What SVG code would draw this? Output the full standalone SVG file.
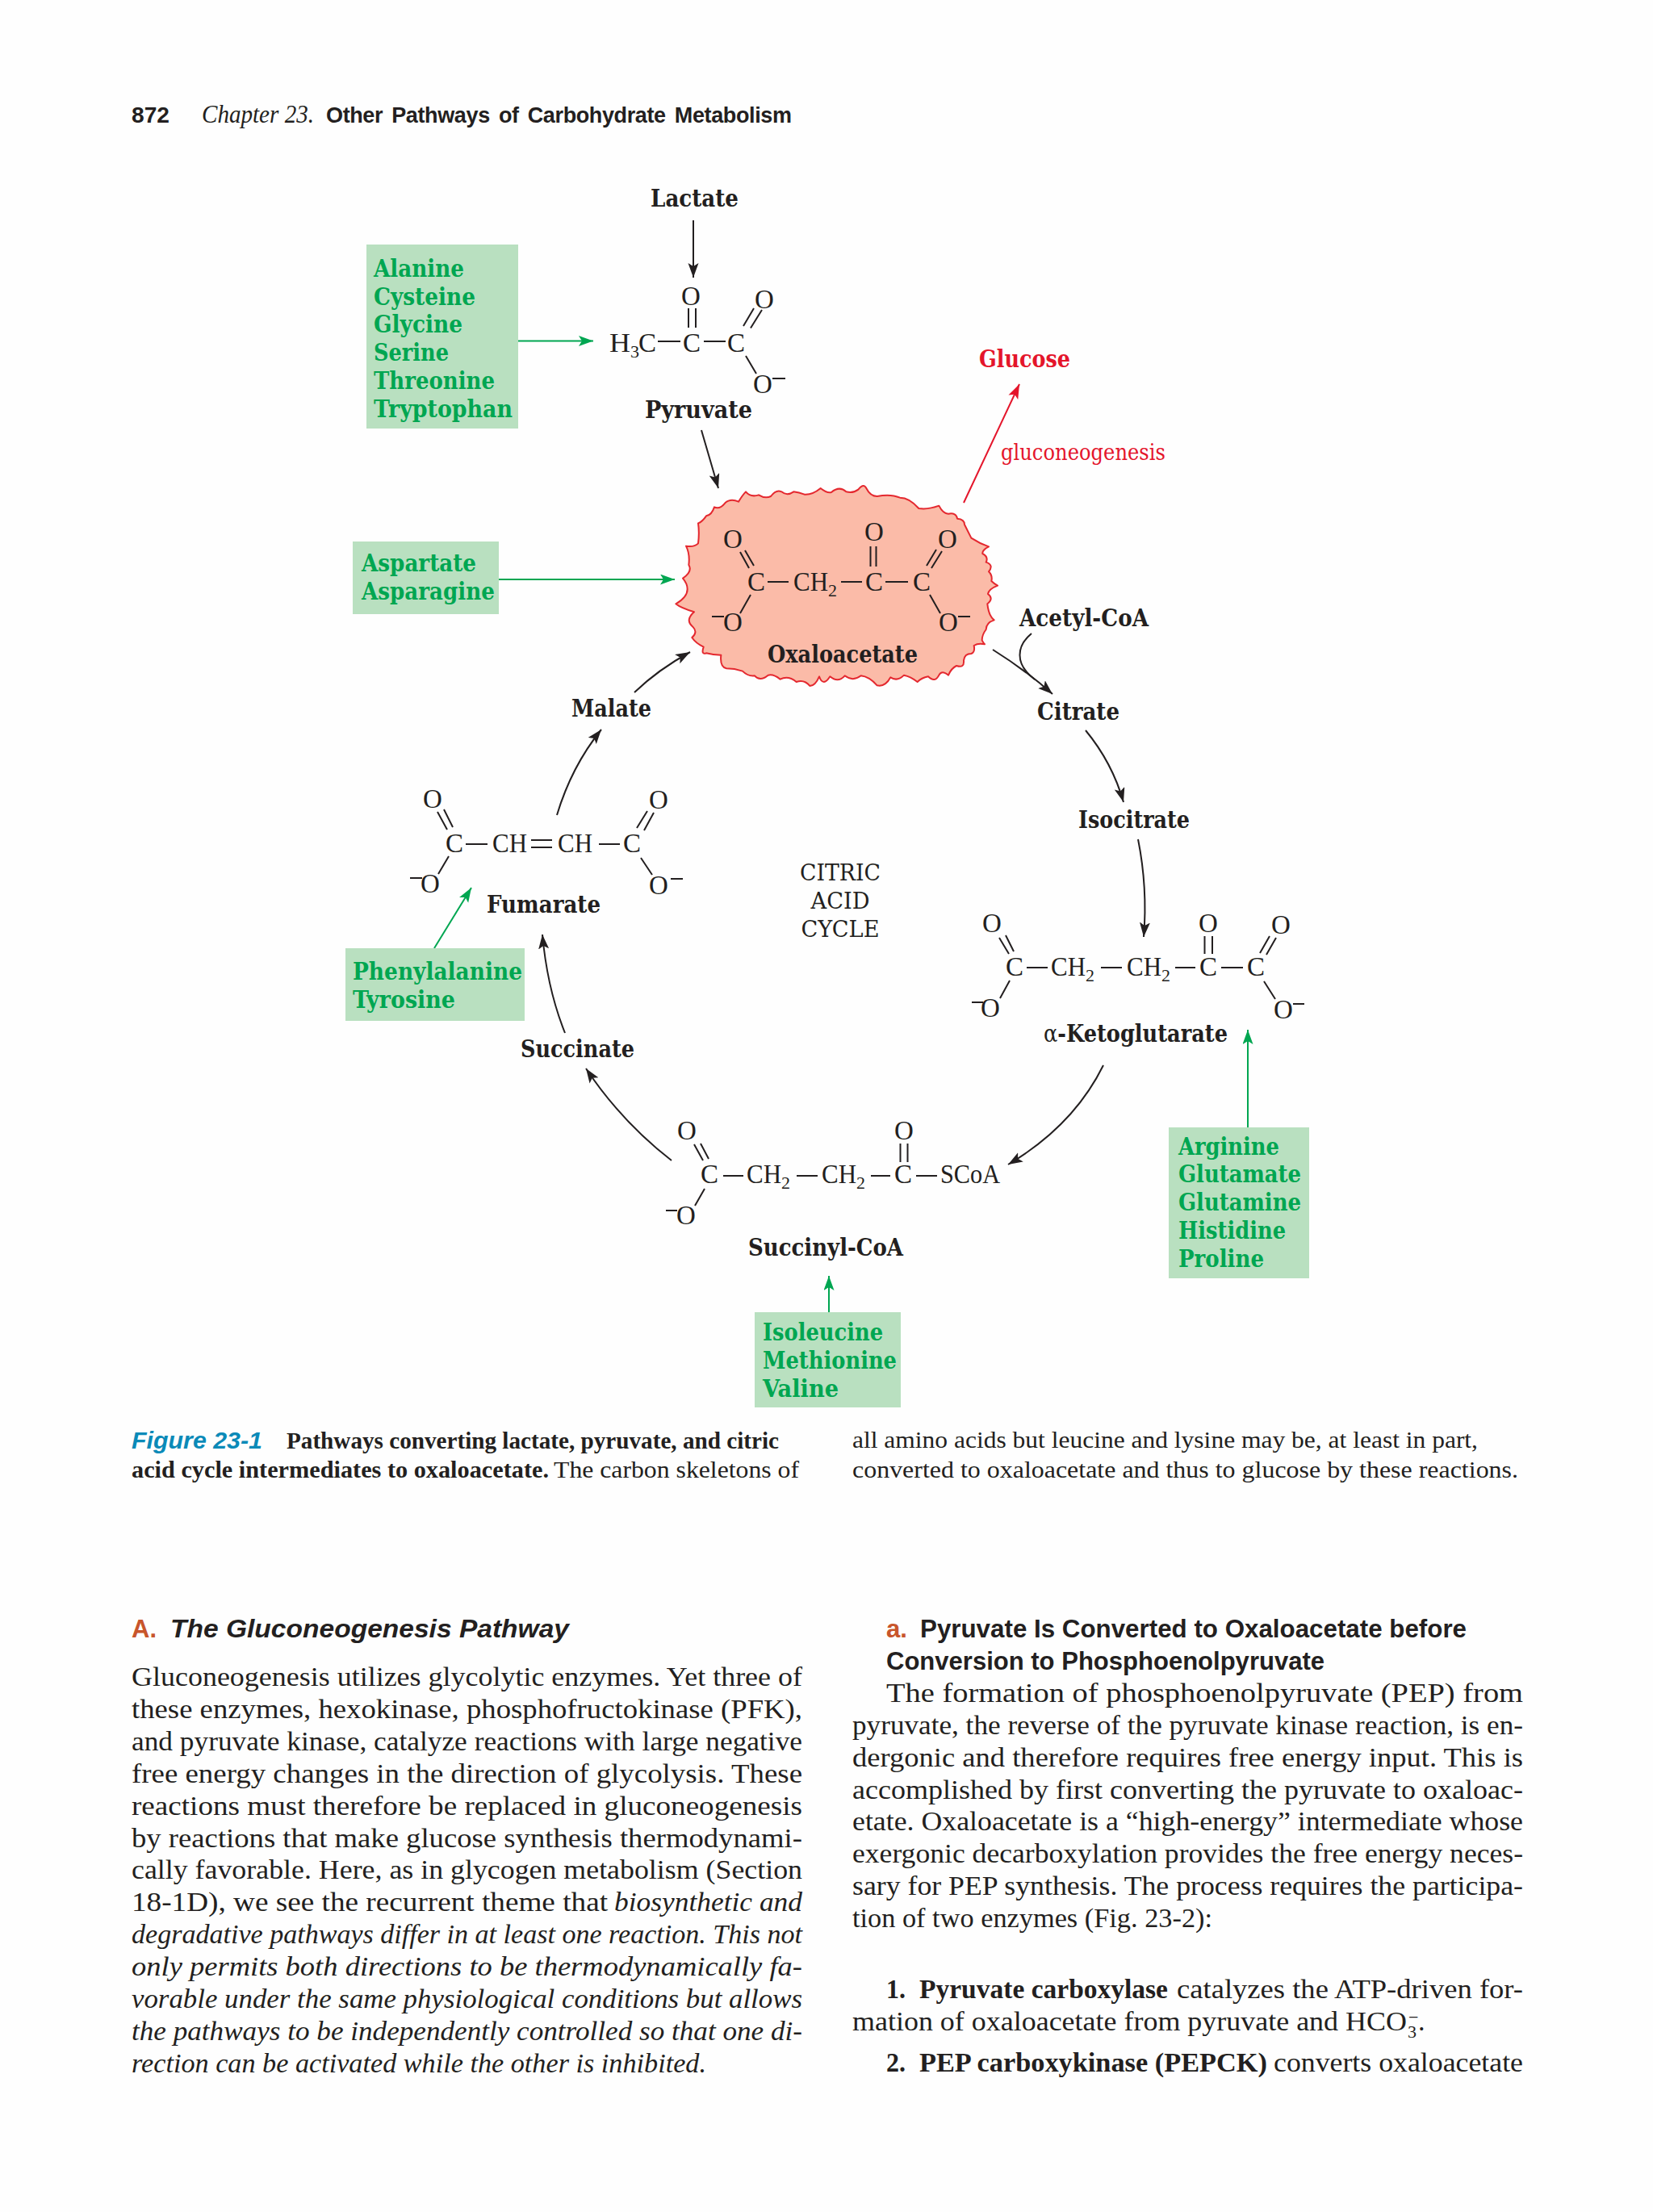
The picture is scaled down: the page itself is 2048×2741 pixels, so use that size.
<svg xmlns="http://www.w3.org/2000/svg" width="2048" height="2741" viewBox="0 0 2048 2741">
<style>
text{fill:#231f20}
.lb{font:bold 29px "DejaVu Serif",serif}
.gr{font:bold 29px "DejaVu Serif",serif;fill:#00a651}
.rd{fill:#e4152b}
.ch{font:33px "Liberation Serif",serif}
.su{font:22px "Liberation Serif",serif}
.cy{font:27px "DejaVu Serif",serif}
.bd{font:34px "Liberation Serif",serif}
.it{font:italic 34px "Liberation Serif",serif}
.bb{font:bold 34px "Liberation Serif",serif}
.cp{font:30px "Liberation Serif",serif}
.cb{font:bold 30px "Liberation Serif",serif}
.sh{font:bold 32px "Liberation Sans",sans-serif}
.si{font:italic bold 32px "Liberation Sans",sans-serif}
.box{fill:#b9e0c0}
.bond{fill:none;stroke:#231f20;stroke-width:2}
.k{fill:none;stroke:#231f20;stroke-width:2}
.g{fill:none;stroke:#00a651;stroke-width:2}
.r{fill:none;stroke:#e4152b;stroke-width:2}
</style>
<defs>
<marker id="ak" markerUnits="userSpaceOnUse" markerWidth="20" markerHeight="14" refX="18" refY="6.5" orient="auto"><path d="M0,0 L18,6.5 L0,13 L4,6.500z" fill="#231f20"/></marker>
<marker id="ag" markerUnits="userSpaceOnUse" markerWidth="20" markerHeight="14" refX="18" refY="6.5" orient="auto"><path d="M0,0 L18,6.5 L0,13 L4,6.500z" fill="#00a651"/></marker>
<marker id="ar" markerUnits="userSpaceOnUse" markerWidth="20" markerHeight="14" refX="18" refY="6.5" orient="auto"><path d="M0,0 L18,6.5 L0,13 L4,6.500z" fill="#e4152b"/></marker>
</defs>
<rect width="2048" height="2741" fill="#fefefe"/>

<g id="header">
<text x="163" y="152" font-family="Liberation Sans" font-weight="bold" font-size="27" textLength="47" lengthAdjust="spacingAndGlyphs">872</text>
<text x="250" y="152" font-family="Liberation Serif" font-style="italic" font-size="31" textLength="139" lengthAdjust="spacingAndGlyphs">Chapter 23.</text>
<text x="404" y="152" font-family="Liberation Sans" font-weight="bold" font-size="27" word-spacing="4" textLength="577" lengthAdjust="spacing">Other Pathways of Carbohydrate Metabolism</text>
</g>

<g id="connectors">
<path class="k" marker-end="url(#ak)" d="M859,273V344"/>
<path class="g" marker-end="url(#ag)" d="M641,422.500H735"/>
<path class="k" marker-end="url(#ak)" d="M869,533L890,605"/>
<path class="r" marker-end="url(#ar)" d="M1194,623L1263,476"/>
<path class="g" marker-end="url(#ag)" d="M618,718H836"/>
<path class="k" marker-end="url(#ak)" d="M786,858Q815,830 855,808"/>
<path class="k" marker-end="url(#ak)" d="M1230,805Q1270,830 1304,860"/>
<path class="k" d="M1278,785C1260,800 1256,822 1282,842"/>
<path class="k" marker-end="url(#ak)" d="M1345,905Q1378,945 1392,994"/>
<path class="k" marker-end="url(#ak)" d="M1410,1040Q1422,1100 1417,1161"/>
<path class="k" marker-end="url(#ak)" d="M1367,1320Q1330,1395 1249,1443"/>
<path class="k" marker-end="url(#ak)" d="M832,1438Q770,1390 726,1324"/>
<path class="k" marker-end="url(#ak)" d="M700,1280Q678,1225 672,1158"/>
<path class="k" marker-end="url(#ak)" d="M690,1010Q708,950 745,904"/>
<path class="g" marker-end="url(#ag)" d="M538,1175L584,1100"/>
<path class="g" marker-end="url(#ag)" d="M1546,1398V1276"/>
<path class="g" marker-end="url(#ag)" d="M1027,1629V1581"/>
</g>

<g id="lactate"><text class="lb" x="806" y="256" textLength="109" lengthAdjust="spacingAndGlyphs">Lactate</text></g>

<g id="pyruvate">
<text class="ch" x="755" y="436" textLength="26" lengthAdjust="spacingAndGlyphs">H</text><text class="su" x="781" y="443">3</text><text class="ch" x="791" y="436">C</text>
<text class="ch" x="857" y="436" text-anchor="middle">C</text><text class="ch" x="912" y="436" text-anchor="middle">C</text>
<text class="ch" x="856" y="378" text-anchor="middle">O</text><text class="ch" x="947" y="382" text-anchor="middle">O</text><text class="ch" x="945" y="487" text-anchor="middle">O</text>
<path class="bond" d="M815,423H843M872,423H899M853,382V406M862,382V406M921,404L934,382M930,406.500L944,384M924,441L937,463M957,469H973"/>
<text class="lb" x="799" y="518" textLength="133" lengthAdjust="spacingAndGlyphs">Pyruvate</text>
</g>

<g id="amino-1">
<rect class="box" x="454" y="303" width="188" height="228"/>
<text class="gr" x="463" y="343" textLength="112" lengthAdjust="spacingAndGlyphs">Alanine</text>
<text class="gr" x="463" y="378" textLength="126" lengthAdjust="spacingAndGlyphs">Cysteine</text>
<text class="gr" x="463" y="412" textLength="110" lengthAdjust="spacingAndGlyphs">Glycine</text>
<text class="gr" x="463" y="447" textLength="93" lengthAdjust="spacingAndGlyphs">Serine</text>
<text class="gr" x="463" y="482" textLength="150" lengthAdjust="spacingAndGlyphs">Threonine</text>
<text class="gr" x="463" y="517" textLength="172" lengthAdjust="spacingAndGlyphs">Tryptophan</text>
</g>

<g id="glucose">
<text class="lb rd" x="1213" y="455" textLength="113" lengthAdjust="spacingAndGlyphs">Glucose</text>
<text class="cy rd" x="1240" y="570" textLength="204" lengthAdjust="spacingAndGlyphs">gluconeogenesis</text>
</g>

<g id="amino-2">
<rect class="box" x="437" y="671" width="181" height="90"/>
<text class="gr" x="448" y="708" textLength="142" lengthAdjust="spacingAndGlyphs">Aspartate</text>
<text class="gr" x="448" y="743" textLength="165" lengthAdjust="spacingAndGlyphs">Asparagine</text>
</g>

<g id="oxaloacetate">
<path transform="translate(820,580) scale(.33333)" fill="#fbbba8" stroke="#e4282f" stroke-width="6" stroke-linejoin="round" d="M135,205Q150,200 165,178Q185,175 195,145Q215,155 235,130Q255,112 285,125Q300,100 312,88Q330,110 360,100Q385,115 405,105Q425,78 445,88Q465,105 490,88Q510,90 530,98Q560,100 590,75Q615,95 630,90Q660,65 685,88Q710,95 730,80Q750,55 760,75Q775,105 800,105Q850,95 885,110Q920,110 955,150Q990,155 1030,140Q1045,170 1065,170Q1095,165 1098,188Q1125,190 1125,210Q1140,240 1150,260Q1180,280 1215,292Q1190,305 1192,318Q1215,330 1205,350Q1235,360 1215,385Q1230,400 1225,420Q1235,430 1248,437Q1215,450 1212,468Q1235,485 1210,505Q1215,550 1235,565Q1205,575 1205,600Q1190,620 1190,640Q1195,650 1200,655Q1175,650 1160,660Q1165,685 1150,690Q1125,690 1122,715Q1125,745 1095,735Q1075,745 1065,770Q1040,750 1030,770Q1015,800 990,775Q965,780 950,795Q925,775 900,770Q875,795 850,778Q830,815 800,808Q770,775 740,772Q710,795 680,772Q655,800 625,775Q600,815 585,775Q570,810 550,810Q530,785 500,795Q470,770 440,785Q415,765 395,770Q365,795 345,772Q320,775 300,755Q270,745 240,745Q215,740 220,695Q190,695 165,688Q145,695 155,665Q125,650 112,630Q135,610 115,590Q85,565 120,535Q70,520 52,505Q95,480 95,450Q95,430 78,410Q115,385 100,360Q105,320 90,290Q120,295 135,280Q140,240 135,205z"/>
<text class="ch" x="908" y="679" text-anchor="middle">O</text><text class="ch" x="1083" y="670" text-anchor="middle">O</text><text class="ch" x="1174" y="679" text-anchor="middle">O</text>
<text class="ch" x="937" y="732" text-anchor="middle">C</text><text class="ch" x="983" y="732" textLength="43" lengthAdjust="spacingAndGlyphs">CH</text><text class="su" x="1026" y="739">2</text>
<text class="ch" x="1083" y="732" text-anchor="middle">C</text><text class="ch" x="1142" y="732" text-anchor="middle">C</text>
<text class="ch" x="908" y="782" text-anchor="middle">O</text><text class="ch" x="1175" y="782" text-anchor="middle">O</text>
<path class="bond" d="M951,721H977M1042,721H1068M1097,721H1125M917,684L928,704M923,682L934,701M1078.500,677V702M1085.500,677V702M1148,701L1160,681M1154,704L1167,683M930,737L917,760M1152,737L1165,760M882,764H897M1187,764H1202"/>
<text class="lb" x="951" y="821" textLength="186" lengthAdjust="spacingAndGlyphs">Oxaloacetate</text>
</g>

<g id="acetyl-coa"><text class="lb" x="1263" y="776" textLength="160" lengthAdjust="spacingAndGlyphs">Acetyl-CoA</text></g>
<g id="malate"><text class="lb" x="708" y="888" textLength="99" lengthAdjust="spacingAndGlyphs">Malate</text></g>
<g id="citrate"><text class="lb" x="1285" y="892" textLength="102" lengthAdjust="spacingAndGlyphs">Citrate</text></g>
<g id="isocitrate"><text class="lb" x="1336" y="1026" textLength="138" lengthAdjust="spacingAndGlyphs">Isocitrate</text></g>
<g id="cycle-label" text-anchor="middle">
<text class="cy" x="1041" y="1091" textLength="100" lengthAdjust="spacingAndGlyphs">CITRIC</text>
<text class="cy" x="1041" y="1126" textLength="73" lengthAdjust="spacingAndGlyphs">ACID</text>
<text class="cy" x="1041" y="1161" textLength="97" lengthAdjust="spacingAndGlyphs">CYCLE</text>
</g>

<g id="fumarate">
<text class="ch" x="536" y="1001" text-anchor="middle">O</text><text class="ch" x="816" y="1002" text-anchor="middle">O</text>
<text class="ch" x="563" y="1056" text-anchor="middle">C</text><text class="ch" x="610" y="1056" textLength="43" lengthAdjust="spacingAndGlyphs">CH</text><text class="ch" x="691" y="1056" textLength="43" lengthAdjust="spacingAndGlyphs">CH</text><text class="ch" x="783" y="1056" text-anchor="middle">C</text>
<text class="ch" x="533" y="1106" text-anchor="middle">O</text><text class="ch" x="816" y="1108" text-anchor="middle">O</text>
<path class="bond" d="M577,1046H604M658,1041H684M658,1050H684M742,1046H768M542,1006L554,1028M550,1003L561,1025M789,1026L802,1005M798,1029L810,1007M556,1061L543,1083M794,1063L808,1084M508,1088H523M831,1089H846"/>
<text class="lb" x="603" y="1131" textLength="141" lengthAdjust="spacingAndGlyphs">Fumarate</text>
</g>

<g id="amino-3">
<rect class="box" x="428" y="1175" width="222" height="90"/>
<text class="gr" x="437" y="1214" textLength="210" lengthAdjust="spacingAndGlyphs">Phenylalanine</text>
<text class="gr" x="437" y="1249" textLength="127" lengthAdjust="spacingAndGlyphs">Tyrosine</text>
</g>

<g id="ketoglutarate">
<text class="ch" x="1229" y="1155" text-anchor="middle">O</text><text class="ch" x="1497" y="1155" text-anchor="middle">O</text><text class="ch" x="1587" y="1157" text-anchor="middle">O</text>
<text class="ch" x="1257" y="1209" text-anchor="middle">C</text><text class="ch" x="1302" y="1209" textLength="43" lengthAdjust="spacingAndGlyphs">CH</text><text class="su" x="1345" y="1216">2</text>
<text class="ch" x="1396" y="1209" textLength="43" lengthAdjust="spacingAndGlyphs">CH</text><text class="su" x="1439" y="1216">2</text>
<text class="ch" x="1497" y="1209" text-anchor="middle">C</text><text class="ch" x="1556" y="1209" text-anchor="middle">C</text>
<text class="ch" x="1227" y="1260" text-anchor="middle">O</text><text class="ch" x="1590" y="1262" text-anchor="middle">O</text>
<path class="bond" d="M1272,1199H1298M1364,1199H1390M1456,1199H1481M1513,1199H1540M1238,1162L1250,1182M1246,1159L1256,1179M1492.500,1160V1182M1502,1160V1182M1561,1181L1573,1160M1569,1183L1581,1162M1251,1215L1239,1237M1566,1216L1580,1238M1204,1242H1218M1602,1244H1616"/>
<text class="lb" x="1293" y="1291" textLength="228" lengthAdjust="spacingAndGlyphs"><tspan font-weight="normal">α</tspan>-Ketoglutarate</text>
</g>

<g id="succinate"><text class="lb" x="645" y="1310" textLength="141" lengthAdjust="spacingAndGlyphs">Succinate</text></g>

<g id="succinyl-coa">
<text class="ch" x="851" y="1412" text-anchor="middle">O</text><text class="ch" x="1120" y="1412" text-anchor="middle">O</text>
<text class="ch" x="879" y="1466" text-anchor="middle">C</text><text class="ch" x="925" y="1466" textLength="43" lengthAdjust="spacingAndGlyphs">CH</text><text class="su" x="968" y="1473">2</text>
<text class="ch" x="1018" y="1466" textLength="43" lengthAdjust="spacingAndGlyphs">CH</text><text class="su" x="1061" y="1473">2</text>
<text class="ch" x="1119" y="1466" text-anchor="middle">C</text><text class="ch" x="1165" y="1466" textLength="74" lengthAdjust="spacingAndGlyphs">SCoA</text>
<text class="ch" x="850" y="1517" text-anchor="middle">O</text>
<path class="bond" d="M896,1457H921M987,1457H1013M1079,1457H1103M1135,1457H1161M860,1418L871,1438M868,1417L878,1436M1115.500,1417V1440M1124.500,1417V1440M873,1473L861,1494M825,1500H839"/>
<text class="lb" x="927" y="1556" textLength="192" lengthAdjust="spacingAndGlyphs">Succinyl-CoA</text>
</g>

<g id="amino-4">
<rect class="box" x="1448" y="1397" width="174" height="187"/>
<text class="gr" x="1460" y="1431" textLength="125" lengthAdjust="spacingAndGlyphs">Arginine</text>
<text class="gr" x="1460" y="1465" textLength="152" lengthAdjust="spacingAndGlyphs">Glutamate</text>
<text class="gr" x="1460" y="1500" textLength="152" lengthAdjust="spacingAndGlyphs">Glutamine</text>
<text class="gr" x="1460" y="1535" textLength="133" lengthAdjust="spacingAndGlyphs">Histidine</text>
<text class="gr" x="1460" y="1570" textLength="106" lengthAdjust="spacingAndGlyphs">Proline</text>
</g>

<g id="amino-5">
<rect class="box" x="935" y="1626" width="181" height="118"/>
<text class="gr" x="945" y="1661" textLength="149" lengthAdjust="spacingAndGlyphs">Isoleucine</text>
<text class="gr" x="945" y="1696" textLength="166" lengthAdjust="spacingAndGlyphs">Methionine</text>
<text class="gr" x="945" y="1731" textLength="94" lengthAdjust="spacingAndGlyphs">Valine</text>
</g>

<g id="caption">
<text class="si" x="163" y="1795" style="fill:#0a8ab8;font-size:30px" textLength="162" lengthAdjust="spacingAndGlyphs">Figure 23-1</text>
<text class="cb" x="355" y="1795" textLength="610" lengthAdjust="spacingAndGlyphs">Pathways converting lactate, pyruvate, and citric</text>
<text class="cb" x="163" y="1831" textLength="517" lengthAdjust="spacingAndGlyphs">acid cycle intermediates to oxaloacetate.</text>
<text class="cp" x="686" y="1831" textLength="304" lengthAdjust="spacingAndGlyphs">The carbon skeletons of</text>
<text class="cp" x="1056" y="1794" textLength="775" lengthAdjust="spacingAndGlyphs">all amino acids but leucine and lysine may be, at least in part,</text>
<text class="cp" x="1056" y="1831" textLength="825" lengthAdjust="spacingAndGlyphs">converted to oxaloacetate and thus to glucose by these reactions.</text>
</g>

<g id="body-left">
<text class="sh" x="163" y="2029" style="fill:#c8552b" textLength="31" lengthAdjust="spacingAndGlyphs">A.</text>
<text class="si" x="211" y="2029" textLength="494" lengthAdjust="spacingAndGlyphs">The Gluconeogenesis Pathway</text>
<text class="bd" x="163" y="2089" textLength="831" lengthAdjust="spacingAndGlyphs">Gluconeogenesis utilizes glycolytic enzymes. Yet three of</text>
<text class="bd" x="163" y="2129" textLength="831" lengthAdjust="spacingAndGlyphs">these enzymes, hexokinase, phosphofructokinase (PFK),</text>
<text class="bd" x="163" y="2169" textLength="831" lengthAdjust="spacingAndGlyphs">and pyruvate kinase, catalyze reactions with large negative</text>
<text class="bd" x="163" y="2209" textLength="831" lengthAdjust="spacingAndGlyphs">free energy changes in the direction of glycolysis. These</text>
<text class="bd" x="163" y="2249" textLength="831" lengthAdjust="spacingAndGlyphs">reactions must therefore be replaced in gluconeogenesis</text>
<text class="bd" x="163" y="2289" textLength="831" lengthAdjust="spacingAndGlyphs">by reactions that make glucose synthesis thermodynami-</text>
<text class="bd" x="163" y="2328" textLength="831" lengthAdjust="spacingAndGlyphs">cally favorable. Here, as in glycogen metabolism (Section</text>
<text class="bd" x="163" y="2368" textLength="590" lengthAdjust="spacingAndGlyphs">18-1D), we see the recurrent theme that</text>
<text class="it" x="761" y="2368" textLength="233" lengthAdjust="spacingAndGlyphs">biosynthetic and</text>
<text class="it" x="163" y="2408" textLength="831" lengthAdjust="spacingAndGlyphs">degradative pathways differ in at least one reaction. This not</text>
<text class="it" x="163" y="2448" textLength="831" lengthAdjust="spacingAndGlyphs">only permits both directions to be thermodynamically fa-</text>
<text class="it" x="163" y="2488" textLength="831" lengthAdjust="spacingAndGlyphs">vorable under the same physiological conditions but allows</text>
<text class="it" x="163" y="2528" textLength="831" lengthAdjust="spacingAndGlyphs">the pathways to be independently controlled so that one di-</text>
<text class="it" x="163" y="2568" textLength="712" lengthAdjust="spacingAndGlyphs">rection can be activated while the other is inhibited.</text>
</g>

<g id="body-right">
<text class="sh" x="1098" y="2029" style="fill:#c8552b" textLength="26" lengthAdjust="spacingAndGlyphs">a.</text>
<text class="sh" x="1140" y="2029" textLength="677" lengthAdjust="spacingAndGlyphs">Pyruvate Is Converted to Oxaloacetate before</text>
<text class="sh" x="1098" y="2069" textLength="543" lengthAdjust="spacingAndGlyphs">Conversion to Phosphoenolpyruvate</text>
<text class="bd" x="1098" y="2109" textLength="789" lengthAdjust="spacingAndGlyphs">The formation of phosphoenolpyruvate (PEP) from</text>
<text class="bd" x="1056" y="2149" textLength="831" lengthAdjust="spacingAndGlyphs">pyruvate, the reverse of the pyruvate kinase reaction, is en-</text>
<text class="bd" x="1056" y="2189" textLength="831" lengthAdjust="spacingAndGlyphs">dergonic and therefore requires free energy input. This is</text>
<text class="bd" x="1056" y="2229" textLength="831" lengthAdjust="spacingAndGlyphs">accomplished by first converting the pyruvate to oxaloac-</text>
<text class="bd" x="1056" y="2268" textLength="831" lengthAdjust="spacingAndGlyphs">etate. Oxaloacetate is a “high-energy” intermediate whose</text>
<text class="bd" x="1056" y="2308" textLength="831" lengthAdjust="spacingAndGlyphs">exergonic decarboxylation provides the free energy neces-</text>
<text class="bd" x="1056" y="2348" textLength="831" lengthAdjust="spacingAndGlyphs">sary for PEP synthesis. The process requires the participa-</text>
<text class="bd" x="1056" y="2388" textLength="446" lengthAdjust="spacingAndGlyphs">tion of two enzymes (Fig. 23-2):</text>
<text class="bb" x="1098" y="2476" textLength="24" lengthAdjust="spacingAndGlyphs">1.</text>
<text class="bb" x="1139" y="2476" textLength="308" lengthAdjust="spacingAndGlyphs">Pyruvate carboxylase</text>
<text class="bd" x="1458" y="2476" textLength="429" lengthAdjust="spacingAndGlyphs">catalyzes the ATP-driven for-</text>
<text class="bd" x="1056" y="2516" textLength="687" lengthAdjust="spacingAndGlyphs">mation of oxaloacetate from pyruvate and HCO</text>
<text class="su" x="1744" y="2525">3</text><text class="su" x="1745" y="2507">−</text><text class="bd" x="1757" y="2516">.</text>
<text class="bb" x="1098" y="2567" textLength="24" lengthAdjust="spacingAndGlyphs">2.</text>
<text class="bb" x="1139" y="2567" textLength="431" lengthAdjust="spacingAndGlyphs">PEP carboxykinase (PEPCK)</text>
<text class="bd" x="1578" y="2567" textLength="309" lengthAdjust="spacingAndGlyphs">converts oxaloacetate</text>
</g>
</svg>
